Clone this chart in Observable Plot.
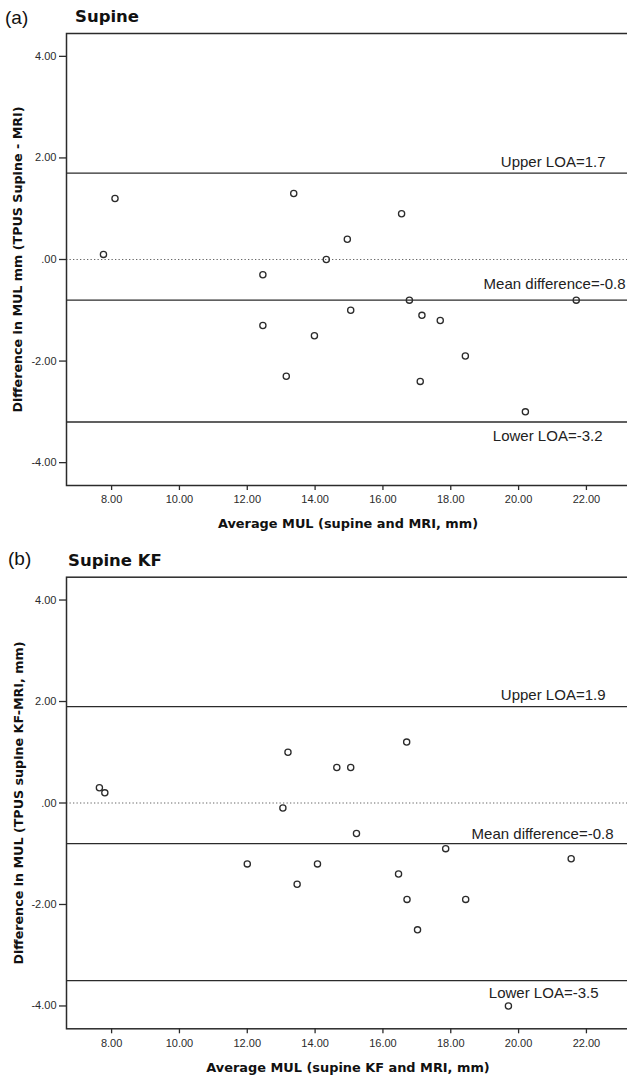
<!DOCTYPE html>
<html><head><meta charset="utf-8">
<script src="https://cdn.jsdelivr.net/npm/d3@7"></script>
<script src="https://cdn.jsdelivr.net/npm/@observablehq/plot@0.6"></script>
<style>
html,body{margin:0;padding:0;background:#fff;overflow:hidden;}
#wrap{position:relative;width:627px;height:1078px;overflow:hidden;background:#fff;}
.panel{position:absolute;left:0;width:634px;}
.panel svg{max-width:none !important;}
.tag{position:absolute;font-family:"Liberation Sans",Arial,sans-serif;font-size:19px;color:#111;line-height:19px;white-space:nowrap;}
.ttl{position:absolute;font-family:"DejaVu Sans",sans-serif;font-weight:bold;font-size:16.5px;color:#111;line-height:17px;white-space:nowrap;}
</style></head><body>
<div id="wrap"></div>
<script>
// ---- data ----
const panelTags = ["(a)", "(b)"];
const panelTitles = ["Supine", "Supine KF"];
const xLabels = ["Average MUL (supine and MRI, mm)", "Average MUL (supine KF and MRI, mm)"];
const yLabels = ["Difference in MUL mm (TPUS Supine - MRI)", "Difference in MUL (TPUS supine KF-MRI, mm)"];

const supineAvg  = [7.76, 8.1, 12.46, 12.46, 13.15, 13.98, 13.37, 14.33, 14.95, 15.05, 16.55, 16.78, 17.15, 17.1, 17.69, 18.43, 20.2, 21.7];
const supineDiff = [0.1, 1.2, -0.3, -1.3, -2.3, -1.5, 1.3, 0.0, 0.4, -1.0, 0.9, -0.8, -1.1, -2.4, -1.2, -1.9, -3.0, -0.8];

const kfAvg  = [7.64, 7.8, 13.2, 14.64, 15.05, 16.7, 13.05, 12.0, 13.47, 14.07, 15.22, 16.46, 16.71, 17.02, 17.85, 18.44, 19.7, 21.55];
const kfDiff = [0.3, 0.2, 1.0, 0.7, 0.7, 1.2, -0.1, -1.2, -1.6, -1.2, -0.6, -1.4, -1.9, -2.5, -0.9, -1.9, -4.0, -1.1];

const upperLOA = [1.7, 1.9];
const meanDiff = [-0.8, -0.8];
const lowerLOA = [-3.2, -3.5];

const xTicks = [8, 10, 12, 14, 16, 18, 20, 22];
const yTicks = [4, 2, 0, -2, -4];
const xDomain = [6.67, 23.27];
const yDomain = [-4.45, 4.45];

// ---- layout / style config ----
const panels = [
  {xs: supineAvg, ys: supineDiff, top: 0, height: 540, mt: 33, mb: 55,
   tag: {left: 5, top: 8}, ttl: {left: 75, top: 8},
   lab: {upper: [-24, -6], mean: [-4, -10.7], lower: [-27, 19.4]}, xLabDy: 42, yLabDx: -44.5},
  {xs: kfAvg, ys: kfDiff, top: 540, height: 538, mt: 36.7, mb: 49.7,
   tag: {left: 8, top: 549}, ttl: {left: 68, top: 552},
   lab: {upper: [-24, -7], mean: [-16, -4.3], lower: [-31, 17]}, xLabDy: 43.4, yLabDx: -44}
];

const wrap = document.getElementById("wrap");
const ink = "#2b2b2b";
const fmtY = d => d === 0 ? ".00" : d.toFixed(2);
const fmtX = d => d.toFixed(2);

panels.forEach((p, i) => {
  const pts = p.xs.map((x, j) => ({x, y: p.ys[j]}));
  const refs = [
    {v: upperLOA[i], t: `Upper LOA=${upperLOA[i]}`, o: p.lab.upper},
    {v: meanDiff[i], t: `Mean difference=${meanDiff[i]}`, o: p.lab.mean},
    {v: lowerLOA[i], t: `Lower LOA=${lowerLOA[i]}`, o: p.lab.lower}
  ];
  const chart = Plot.plot({
    width: 634, height: p.height,
    marginLeft: 66, marginRight: 5, marginTop: p.mt, marginBottom: p.mb,
    style: {fontFamily: "'Liberation Sans', Arial, sans-serif", fontSize: "11px", color: ink, background: "white", overflow: "visible", maxWidth: "none"},
    x: {domain: xDomain},
    y: {domain: yDomain},
    marks: [
      Plot.ruleY([0], {stroke: "#666", strokeWidth: 1.2, strokeDasharray: "1.3,2.2"}),
      ...refs.map(r => Plot.ruleY([r.v], {stroke: ink, strokeWidth: 1.3})),
      Plot.dot(pts, {x: "x", y: "y", r: 3.1, stroke: ink, strokeWidth: 1.3, fill: "none"}),
      Plot.frame({stroke: ink, strokeWidth: 1.5}),
      Plot.axisX({ticks: xTicks, tickFormat: fmtX, tickSize: 5, tickPadding: 5, label: null, stroke: ink, strokeWidth: 1.3}),
      Plot.axisY({ticks: yTicks, tickFormat: fmtY, tickSize: 7, tickPadding: 3, label: null, stroke: ink, strokeWidth: 1.3}),
      ...refs.map(r => Plot.text([r.t], {y: () => r.v, frameAnchor: "right", textAnchor: "end", lineAnchor: "bottom",
        dx: r.o[0], dy: r.o[1], fontSize: 15, fill: "#222", fontFamily: "'Liberation Sans', Arial, sans-serif"})),
      Plot.text([xLabels[i]], {frameAnchor: "bottom", textAnchor: "middle", lineAnchor: "bottom", dy: p.xLabDy,
        fontFamily: "'DejaVu Sans', sans-serif", fontWeight: "bold", fontSize: 12.9, fill: "#111"}),
      Plot.text([yLabels[i]], {frameAnchor: "left", textAnchor: "middle", rotate: -90, lineAnchor: "bottom", dx: p.yLabDx,
        fontFamily: "'DejaVu Sans', sans-serif", fontWeight: "bold", fontSize: 12.7, fill: "#111"})
    ]
  });
  const holder = document.createElement("div");
  holder.className = "panel";
  holder.style.top = p.top + "px";
  holder.appendChild(chart);
  wrap.appendChild(holder);

  const tag = document.createElement("div");
  tag.className = "tag";
  tag.textContent = panelTags[i];
  tag.style.left = p.tag.left + "px";
  tag.style.top = p.tag.top + "px";
  wrap.appendChild(tag);

  const ttl = document.createElement("div");
  ttl.className = "ttl";
  ttl.textContent = panelTitles[i];
  ttl.style.left = p.ttl.left + "px";
  ttl.style.top = p.ttl.top + "px";
  wrap.appendChild(ttl);
});
</script>
</body></html>
